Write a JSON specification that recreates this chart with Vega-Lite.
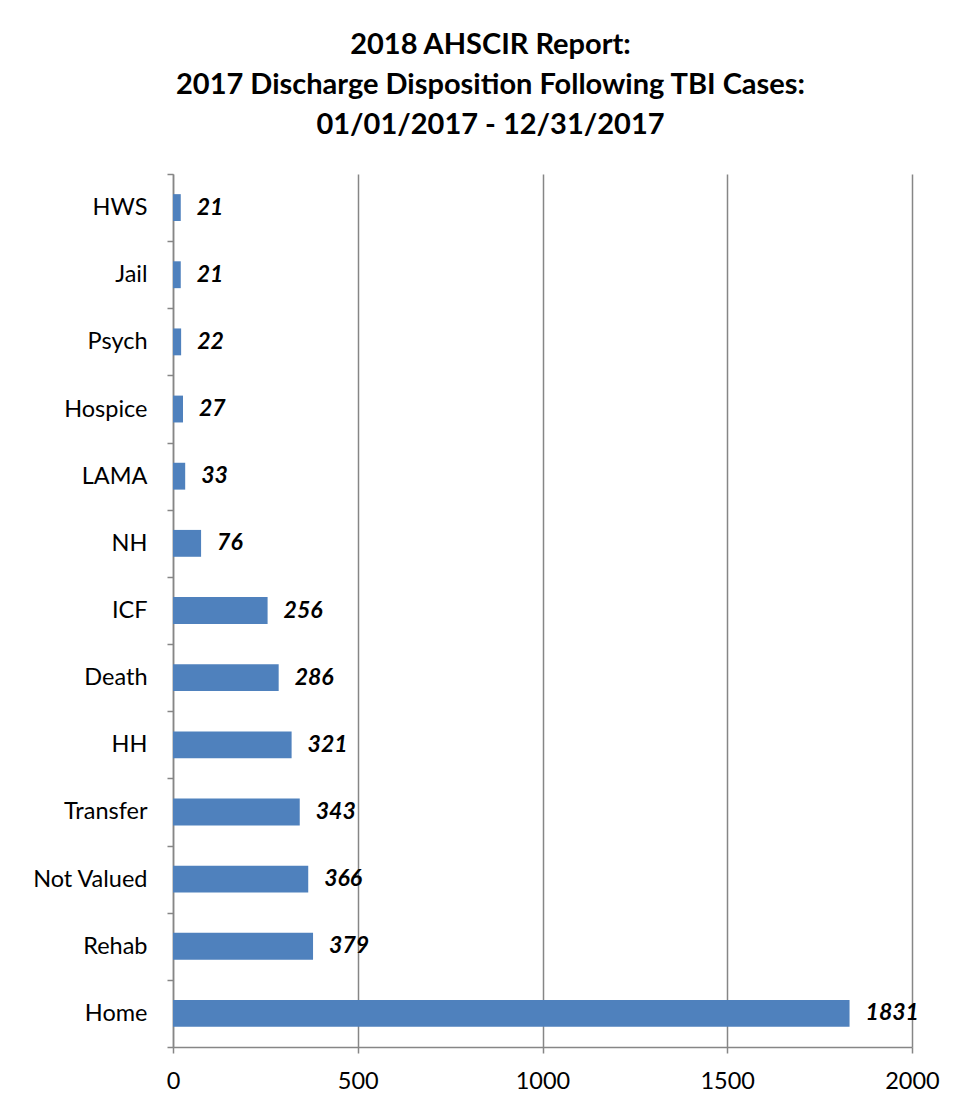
{
  "$schema": "https://vega.github.io/schema/vega-lite/v6.json",
  "autosize": "none",
  "width": 739,
  "height": 873,
  "padding": {"left": 173, "top": 174, "right": 44, "bottom": 62},
  "background": "white",
  "title": {
    "text": ["2018 AHSCIR Report:", "2017 Discharge Disposition Following TBI Cases:", "01/01/2017 - 12/31/2017"],
    "font": "Lato",
    "fontSize": 29,
    "fontWeight": "bold",
    "color": "#000000",
    "lineHeight": 40,
    "anchor": "middle",
    "dx": -52,
    "offset": 22
  },
  "data": {
    "values": [
      {"disposition": "HWS", "cases": 21},
      {"disposition": "Jail", "cases": 21},
      {"disposition": "Psych", "cases": 22},
      {"disposition": "Hospice", "cases": 27},
      {"disposition": "LAMA", "cases": 33},
      {"disposition": "NH", "cases": 76},
      {"disposition": "ICF", "cases": 256},
      {"disposition": "Death", "cases": 286},
      {"disposition": "HH", "cases": 321},
      {"disposition": "Transfer", "cases": 343},
      {"disposition": "Not Valued", "cases": 366},
      {"disposition": "Rehab", "cases": 379},
      {"disposition": "Home", "cases": 1831}
    ]
  },
  "encoding": {
    "y": {
      "field": "disposition",
      "type": "nominal",
      "sort": ["HWS", "Jail", "Psych", "Hospice", "LAMA", "NH", "ICF", "Death", "HH", "Transfer", "Not Valued", "Rehab", "Home"],
      "scale": {"paddingInner": 0, "paddingOuter": 0},
      "axis": {
        "title": null,
        "tickBand": "extent",
        "tickSize": 6,
        "tickColor": "#868686",
        "domainColor": "#868686",
        "domainWidth": 1.5,
        "tickWidth": 1.5,
        "labelFont": "Lato",
        "labelFontSize": 23.5,
        "labelColor": "#000000",
        "labelPadding": 20,
        "grid": false
      }
    },
    "x": {
      "field": "cases",
      "type": "quantitative",
      "scale": {"domain": [0, 2000], "nice": false},
      "axis": {
        "title": null,
        "values": [0, 500, 1000, 1500, 2000],
        "format": "d",
        "tickSize": 6,
        "tickColor": "#868686",
        "domainColor": "#868686",
        "domainWidth": 1.5,
        "tickWidth": 1.5,
        "grid": true,
        "gridColor": "#868686",
        "gridWidth": 1.5,
        "labelFont": "Lato",
        "labelFontSize": 23.5,
        "labelColor": "#000000",
        "labelPadding": 16,
        "labelFlush": false
      }
    }
  },
  "layer": [
    {
      "mark": {"type": "bar", "color": "#4F81BD", "height": {"band": 0.4}}
    },
    {
      "mark": {"type": "text", "align": "left", "baseline": "middle", "dx": 16, "font": "Lato", "fontSize": 23, "fontWeight": "bold", "fontStyle": "italic", "color": "#000000"},
      "encoding": {"text": {"field": "cases", "type": "quantitative"}}
    }
  ],
  "config": {
    "view": {"stroke": null}
  }
}
